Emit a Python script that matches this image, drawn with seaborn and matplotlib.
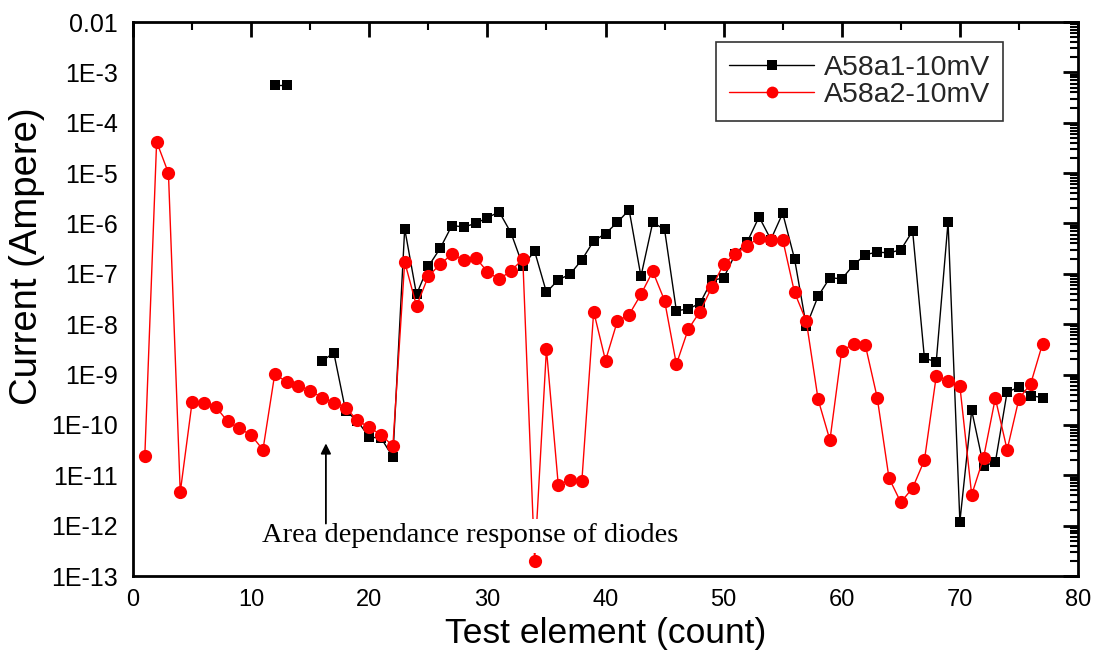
import numpy as np
import pandas as pd
import matplotlib
matplotlib.use("Agg")
import matplotlib.pyplot as plt
from matplotlib.lines import Line2D
from matplotlib.ticker import FixedLocator, FixedFormatter, LogLocator, MultipleLocator, NullFormatter
import seaborn as sns

# ---------------- data ----------------
black_label = "A58a1-10mV"
red_label = "A58a2-10mV"

black_x_seg1 = [12, 13]
black_y_seg1 = [5.7e-4, 5.7e-4]
black_x_seg2 = list(range(16, 78))
black_y_seg2 = [1.85e-9, 2.7e-9, 1.9e-10, 1.2e-10, 5.7e-11, 5.5e-11, 2.3e-11,
                7.9e-7, 3.9e-8, 1.4e-7, 3.2e-7, 9.1e-7, 8.5e-7, 1.0e-6, 1.3e-6,
                1.7e-6, 6.5e-7, 1.45e-7, 2.8e-7, 4.3e-8, 7.6e-8, 9.8e-8, 1.9e-7,
                4.5e-7, 6.3e-7, 1.05e-6, 1.86e-6, 8.9e-8, 1.05e-6, 7.6e-7, 1.85e-8,
                2.0e-8, 2.6e-8, 7.4e-8, 8.3e-8, 2.5e-7, 4.3e-7, 1.35e-6, 4.8e-7,
                1.6e-6, 2.0e-7, 9.1e-9, 3.6e-8, 8.4e-8, 7.9e-8, 1.5e-7, 2.4e-7,
                2.7e-7, 2.6e-7, 3.0e-7, 7.1e-7, 2.1e-9, 1.8e-9, 1.07e-6, 1.2e-12,
                1.95e-10, 1.55e-11, 1.8e-11, 4.5e-10, 5.6e-10, 3.8e-10, 3.5e-10]

red_x = list(range(1, 78))
red_y = [2.4e-11, 4.2e-5, 1.0e-5, 4.6e-12, 2.8e-10, 2.7e-10, 2.3e-10, 1.18e-10,
         8.5e-11, 6.3e-11, 3.2e-11, 1.02e-9, 7.2e-10, 6.0e-10, 4.8e-10, 3.5e-10,
         2.75e-10, 2.2e-10, 1.23e-10, 8.9e-11, 6.4e-11, 3.8e-11, 1.73e-7, 2.3e-8,
         8.9e-8, 1.55e-7, 2.45e-7, 1.9e-7, 2.1e-7, 1.1e-7, 7.8e-8, 1.15e-7,
         1.95e-7, 2.0e-13, 3.2e-9, 6.5e-12, 8.1e-12, 7.8e-12, 1.78e-8, 1.9e-9,
         1.14e-8, 1.55e-8, 3.9e-8, 1.12e-7, 2.95e-8, 1.6e-9, 7.9e-9, 1.78e-8,
         5.4e-8, 1.55e-7, 2.5e-7, 3.6e-7, 5.2e-7, 4.8e-7, 4.8e-7, 4.3e-8,
         1.15e-8, 3.2e-10, 5.0e-11, 3.0e-9, 4.0e-9, 3.8e-9, 3.5e-10, 8.8e-12,
         2.9e-12, 5.6e-12, 2.0e-11, 9.3e-10, 7.6e-10, 5.9e-10, 4.1e-12, 2.2e-11,
         3.4e-10, 3.2e-11, 3.3e-10, 6.6e-10, 4.1e-9]

ytick_values = [1e-2, 1e-3, 1e-4, 1e-5, 1e-6, 1e-7, 1e-8, 1e-9, 1e-10, 1e-11, 1e-12, 1e-13]
ytick_labels = ["0.01", "1E-3", "1E-4", "1E-5", "1E-6", "1E-7", "1E-8", "1E-9",
                "1E-10", "1E-11", "1E-12", "1E-13"]
xtick_values = [0, 10, 20, 30, 40, 50, 60, 70, 80]

annotation_text = "Area dependance response of diodes"
x_label = "Test element (count)"
y_label = "Current (Ampere)"

# ---------------- style ----------------
sns.set_theme(style="white")
plt.rcParams["font.family"] = ["Liberation Sans", "DejaVu Sans"]

fig = plt.figure(figsize=(11.02, 6.61), dpi=100)
ax = fig.add_axes([133 / 1102, (661 - 576) / 661, (1078 - 133) / 1102, (576 - 22) / 661])

df_b1 = pd.DataFrame({"x": black_x_seg1, "y": black_y_seg1})
df_b2 = pd.DataFrame({"x": black_x_seg2, "y": black_y_seg2})
df_r = pd.DataFrame({"x": red_x, "y": red_y})

black_kw = dict(color="black", linewidth=1.0, marker="s", markersize=7,
                markeredgecolor="black", markeredgewidth=0, zorder=3)
red_kw = dict(color="#ff0000", linewidth=1.0, marker="o", markersize=9.5,
              markeredgecolor="#ff0000", markeredgewidth=0, zorder=4)

sns.lineplot(data=df_b1, x="x", y="y", ax=ax, estimator=None, sort=False, **black_kw)
sns.lineplot(data=df_b2, x="x", y="y", ax=ax, estimator=None, sort=False, **black_kw)
sns.lineplot(data=df_r, x="x", y="y", ax=ax, estimator=None, sort=False, **red_kw)

ax.set_yscale("log")
ax.set_xlim(0, 80)
ax.set_ylim(1e-13, 1e-2)

ax.yaxis.set_major_locator(FixedLocator(ytick_values))
ax.yaxis.set_major_formatter(FixedFormatter(ytick_labels))
ax.yaxis.set_minor_locator(LogLocator(base=10, subs=np.arange(2, 10), numticks=100))
ax.yaxis.set_minor_formatter(NullFormatter())
ax.xaxis.set_major_locator(FixedLocator(xtick_values))
ax.xaxis.set_minor_locator(MultipleLocator(5))

ax.tick_params(which="both", direction="in", top=True, right=True, color="black")
ax.tick_params(which="major", length=11, width=2, labelcolor="black")
ax.tick_params(which="minor", length=6, width=1.5)
ax.tick_params(axis="y", which="major", labelsize=18, pad=11)
ax.tick_params(axis="x", which="major", labelsize=17, pad=9)

for s in ax.spines.values():
    s.set_visible(True)
    s.set_color("black")
    s.set_linewidth(2)

ax.set_xlabel(x_label, fontsize=25.5, labelpad=5, color="black")
ax.set_ylabel(y_label, fontsize=27.5, color="black")
ax.yaxis.set_label_coords(-0.093, 0.578)
ax.grid(False)

# annotation
ax.annotate("", xy=(16.33, 4.3e-11), xytext=(16.33, 1.1e-12),
            arrowprops=dict(arrowstyle="-|>", color="black", lw=1.3,
                            mutation_scale=15, shrinkA=0, shrinkB=0), zorder=6)
ax.text(28.5, 6.3e-13, annotation_text, fontsize=20.5, ha="center", va="center",
        family=["Liberation Serif", "DejaVu Serif"], color="black", zorder=5,
        bbox=dict(facecolor="white", edgecolor="none", pad=3))

handles = [Line2D([], [], **{k: v for k, v in black_kw.items() if k != "zorder"}),
           Line2D([], [], **{k: v for k, v in red_kw.items() if k != "zorder"})]
handles[1].set_markersize(8.5)
leg = ax.legend(handles, [black_label, red_label], loc="upper right",
                bbox_to_anchor=(0.921, 0.964), borderaxespad=0, fontsize=20.5,
                frameon=True, fancybox=False, handlelength=3.0, handletextpad=0.35,
                borderpad=0.45, labelspacing=0.05)
leg.get_frame().set_edgecolor("black")
leg.get_frame().set_linewidth(1.2)

fig.savefig("out.png", dpi=100)
